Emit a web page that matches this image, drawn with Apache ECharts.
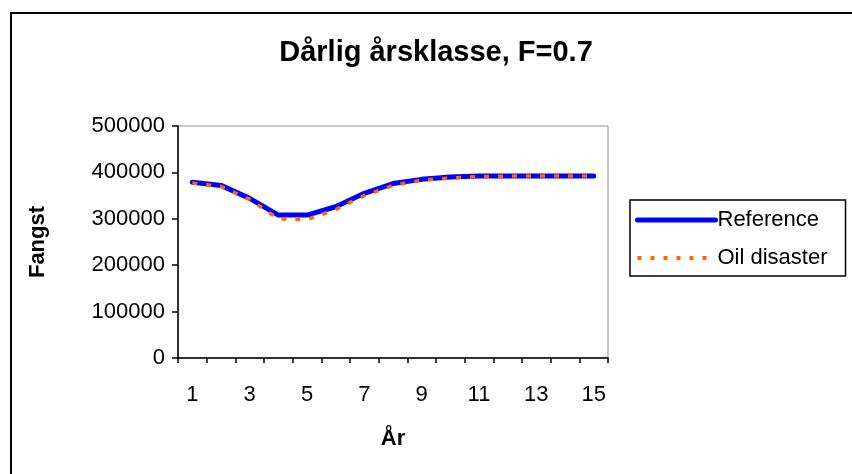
<!DOCTYPE html>
<html lang="no">
<head>
    <meta charset="UTF-8">
    <title>Dårlig årsklasse, F=0.7</title>
    <script src="https://cdn.jsdelivr.net/npm/echarts@6/dist/echarts.min.js"></script>
    <style>
        body { margin: 0; background: #fff; overflow: hidden; }
        #wrap { position: relative; width: 852px; height: 474px; overflow: hidden; }
        /* ytre ramme, bare venstre og øvre kant synes */
        #frame {
            position: absolute; left: 10px; top: 12px; width: 900px; height: 500px;
            border-left: 2px solid #000; border-top: 2px solid #000;
        }
        #chart { position: absolute; left: 0; top: 0; width: 852px; height: 474px; }
    </style>
</head>
<body>
<div id="wrap">
    <div id="frame"></div>
    <div id="chart"></div>
</div>
<script>
    // data lest av bildet
    const years = ['1', '2', '3', '4', '5', '6', '7', '8', '9', '10', '11', '12', '13', '14', '15'];
    const reference = [379000, 372000, 344000, 308000, 308000, 326000, 355000, 376000, 385000, 390000, 392000, 392000, 392000, 392000, 392000];
    const oilDisaster = [377000, 370000, 342000, 300000, 298000, 320000, 350000, 372000, 383000, 388000, 391000, 392000, 392000, 392000, 392000];
    const yTicks = [0, 100000, 200000, 300000, 400000, 500000];

    const font = 'Liberation Sans, Arial, sans-serif';
    let chart = echarts.init(document.getElementById('chart'));

    chart.setOption({
        animation: false,
        backgroundColor: 'transparent',
        textStyle: { fontFamily: font },
        title: {
            text: 'Dårlig årsklasse, F=0.7',
            left: 431, top: 33, textAlign: 'center',
            textStyle: { fontFamily: font, fontSize: 29, fontWeight: 'bold', color: '#000' }
        },
        legend: {
            orient: 'vertical',
            left: 630, top: 200,
            padding: [9, 18, 7, 5],
            borderColor: '#000', borderWidth: 1.5,
            itemWidth: 78, itemHeight: 16, itemGap: 16,
            textStyle: { fontFamily: font, fontSize: 22, color: '#000', padding: [0, 0, 0, -3] },
            data: [
                { name: 'Reference', itemStyle: { opacity: 0 }, lineStyle: { width: 5, color: '#0000ff' } },
                { name: 'Oil disaster', itemStyle: { opacity: 0 }, lineStyle: { width: 4, color: '#ff6600', type: [4, 9] } }
            ]
        },
        grid: { left: 178, right: 244, top: 126, bottom: 116, show: true, borderColor: '#909090', borderWidth: 1 },
        xAxis: {
            type: 'category',
            data: years,
            boundaryGap: true,
            name: 'År', nameLocation: 'middle', nameGap: 70,
            nameTextStyle: { fontFamily: font, fontSize: 22, fontWeight: 'bold', color: '#000' },
            axisLine: { lineStyle: { color: '#000', width: 1.5 } },
            axisTick: { show: true, interval: 0, length: 5, lineStyle: { color: '#000', width: 1.5 } },
            axisLabel: { interval: 1, margin: 26, fontSize: 22, color: '#000', fontFamily: font },
            splitLine: { show: false }
        },
        yAxis: {
            type: 'value',
            min: yTicks[0], max: yTicks[yTicks.length - 1], interval: 100000,
            name: 'Fangst', nameLocation: 'middle', nameGap: 129, nameRotate: 90,
            nameTextStyle: { fontFamily: font, fontSize: 22, fontWeight: 'bold', color: '#000' },
            axisLine: { show: true, lineStyle: { color: '#000', width: 1.5 } },
            axisTick: { show: true, length: 6, lineStyle: { color: '#000', width: 1.5 } },
            axisLabel: { margin: 13, fontSize: 22, color: '#000', fontFamily: font, formatter: v => String(v) },
            splitLine: { show: false }
        },
        series: [
            {
                name: 'Reference', type: 'line', data: reference,
                symbol: 'none', color: '#0000ff',
                lineStyle: { width: 5, color: '#0000ff', cap: 'round', join: 'round' }
            },
            {
                name: 'Oil disaster', type: 'line', data: oilDisaster,
                symbol: 'none', color: '#ff6600',
                lineStyle: { width: 3.5, color: '#ff6600', type: [5, 9] }
            }
        ]
    });
</script>
</body>
</html>
